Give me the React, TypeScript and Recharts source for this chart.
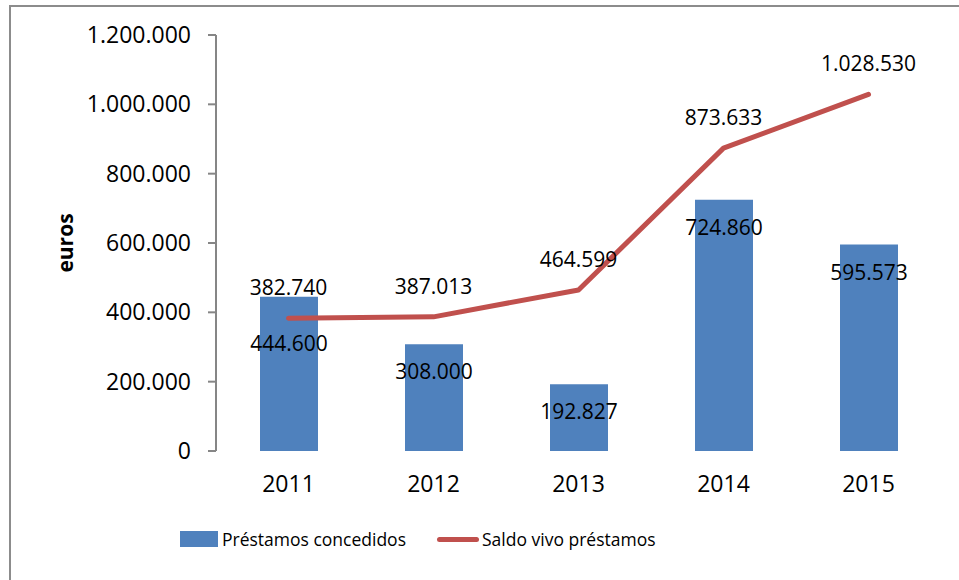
import React from 'react';
import { ComposedChart, Bar, Line, XAxis, YAxis, Legend, LabelList } from 'recharts';

const years = ['2011', '2012', '2013', '2014', '2015'];
const prestamosConcedidos = [444600, 308000, 192827, 724860, 595573];
const saldoVivo = [382740, 387013, 464599, 873633, 1028530];
const yTicks = [0, 200000, 400000, 600000, 800000, 1000000, 1200000];
const edgeTicks = [0, 1, 2, 3, 4, 5];

const data = years.map((y, i) => ({ year: y, concedidos: prestamosConcedidos[i], saldo: saldoVivo[i] }));

const fmt = (v: number) => String(v).replace(/\B(?=(\d{3})+(?!\d))/g, '.');

const BLUE = '#4F81BD';
const RED = '#C0504D';
const AXIS = '#868686';
const FONT = '"Open Sans", sans-serif';

const BarLabel = (props: any) => {
  const { x, y, width, value, index } = props;
  const dy = index === 0 ? 46 : 27;
  return (
    <text x={x + width / 2} y={y + dy} textAnchor="middle" dominantBaseline="central" fontSize={21} fontFamily={FONT} fill="#000">
      {fmt(value)}
    </text>
  );
};

const LineLabel = (props: any) => {
  const { x, y, value } = props;
  return (
    <text x={x} y={y - 31} textAnchor="middle" dominantBaseline="central" fontSize={21} fontFamily={FONT} fill="#000">
      {fmt(value)}
    </text>
  );
};

const LegendContent = () => (
  <div style={{ display: 'flex', alignItems: 'center', fontFamily: FONT, fontSize: 17.5, color: '#000', whiteSpace: 'nowrap' }}>
    <div style={{ width: 38, height: 16, background: BLUE, marginRight: 4 }} />
    <span style={{ display: 'inline-block', width: 181 }}>Préstamos concedidos</span>
    <div style={{ width: 42, height: 5, background: RED, borderRadius: 3, marginLeft: 34, marginRight: 3 }} />
    <span>Saldo vivo préstamos</span>
  </div>
);

export default function App() {
  return (
    <div style={{ position: 'absolute', left: 0, top: 0, width: 959, height: 580, overflow: 'hidden', background: '#fff' }}>
      <div style={{ position: 'absolute', left: 9, top: 5, width: 1200, height: 1200, border: '2px solid #8c8c8c', boxSizing: 'border-box' }} />
      <div style={{ position: 'absolute', left: 0, top: 0 }}>
        <ComposedChart width={959} height={580} data={data} margin={{ top: 35, right: 18, left: 0, bottom: 89 }}>
          <XAxis
            xAxisId="edges"
            type="number"
            dataKey={() => 0}
            domain={[0, 5]}
            ticks={edgeTicks}
            tick={false}
            height={0}
            axisLine={{ stroke: AXIS, strokeWidth: 2 }}
            tickLine={{ stroke: AXIS, strokeWidth: 2 }}
            tickSize={8}
          />
          <XAxis
            xAxisId="cat"
            dataKey="year"
            height={40}
            axisLine={false}
            tickLine={false}
            tickSize={0}
            tickMargin={25}
            tick={{ fontSize: 23, fontFamily: FONT, fill: '#000' }}
          />
          <YAxis
            width={216}
            domain={[0, 1200000]}
            ticks={yTicks}
            interval={0}
            tickFormatter={fmt}
            axisLine={{ stroke: AXIS, strokeWidth: 2 }}
            tickLine={{ stroke: AXIS, strokeWidth: 2 }}
            tickSize={8}
            tickMargin={17}
            tick={{ fontSize: 23, fontFamily: FONT, fill: '#000' }}
            label={{ value: 'euros', angle: -90, position: 'insideLeft', offset: 66, style: { fontSize: 21, fontWeight: 'bold', fontFamily: FONT, fill: '#000', textAnchor: 'middle' } }}
          />
          <Legend verticalAlign="middle" align="center" layout="horizontal" wrapperStyle={{ top: 527, left: 180, width: 'auto' }} content={<LegendContent />} />
          <Bar xAxisId="cat" dataKey="concedidos" name="Préstamos concedidos" fill={BLUE} barSize={58} isAnimationActive={false}>
            <LabelList dataKey="concedidos" content={<BarLabel />} />
          </Bar>
          <Line xAxisId="cat" dataKey="saldo" name="Saldo vivo préstamos" stroke={RED} strokeWidth={5} strokeLinecap="round" strokeLinejoin="round" dot={false} isAnimationActive={false}>
            <LabelList dataKey="saldo" content={<LineLabel />} />
          </Line>
        </ComposedChart>
      </div>
    </div>
  );
}
